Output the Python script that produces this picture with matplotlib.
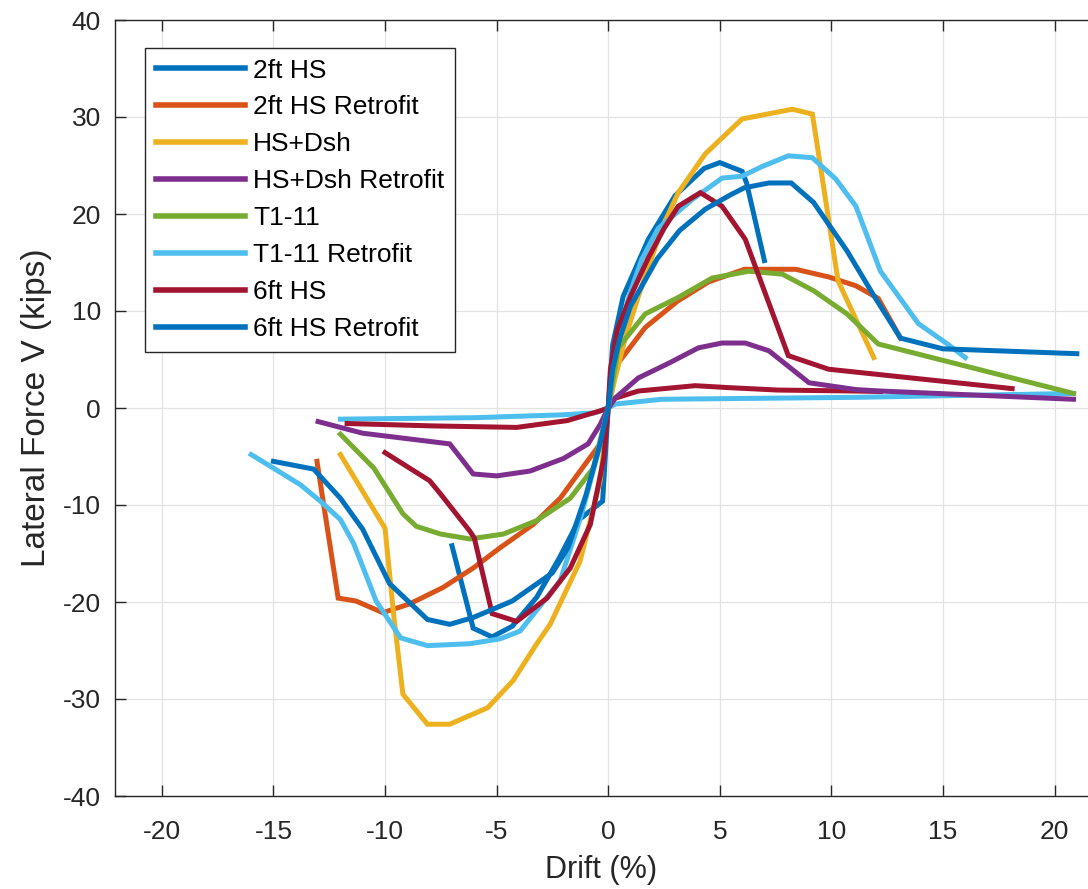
import numpy as np
import matplotlib
matplotlib.use("Agg")
import matplotlib.pyplot as plt

plt.rcParams['font.family'] = ['Liberation Sans', 'DejaVu Sans']
plt.rcParams['axes.unicode_minus'] = False

# MATLAB default colours
c_blue = '#0072BD'
c_orange = '#D95319'
c_yellow = '#EDB120'
c_purple = '#7E2F8E'
c_green = '#77AC30'
c_cyan = '#4DBEEE'
c_red = '#A2142F'

### Data (drift %, lateral force kips)
hs2_x = [-7.0, -6.05, -5.2, -4.3, -3.2, -2.2, -1.3, -0.25, 0.0, 0.2, 0.67, 1.8, 3.0, 4.3, 5.0, 6.0, 6.2, 7.0]
hs2_y = [-14.2, -22.7, -23.6, -22.5, -19.5, -15.5, -11.5, -9.6, 0.0, 6.5, 11.5, 17.4, 21.9, 24.7, 25.3, 24.4, 23.2, 15.2]

hs2r_x = [-13.05, -12.1, -11.3, -10.1, -8.9, -7.4, -6.05, -4.84, -3.36, -2.15, -1.26, -0.36, 0.0, 0.4, 1.66, 3.1, 4.5, 6.1, 8.4, 9.9, 11.1, 12.1, 13.1]
hs2r_y = [-5.5, -19.6, -19.9, -21.1, -20.2, -18.5, -16.5, -14.4, -12.0, -9.3, -6.5, -3.7, 0.0, 4.5, 8.3, 11.0, 13.0, 14.3, 14.3, 13.5, 12.6, 11.3, 7.2]

hsd_x = [-12.0, -11.0, -10.0, -9.6, -9.2, -8.1, -7.1, -5.4, -4.26, -3.2, -2.6, -1.26, -0.36, 0.0, 0.3, 0.8, 1.35, 2.4, 3.14, 4.35, 6.0, 7.35, 8.25, 9.15, 10.3, 11.9]
hsd_y = [-4.8, -8.6, -12.4, -21.6, -29.5, -32.6, -32.6, -30.9, -28.1, -24.3, -22.3, -15.8, -7.5, 0.0, 3.0, 7.5, 11.5, 18.5, 22.2, 26.2, 29.8, 30.4, 30.8, 30.3, 13.1, 5.2]

hsdr_x = [-13.0, -11.0, -7.1, -6.05, -5.0, -3.5, -2.0, -0.9, -0.36, 0.0, 0.3, 1.35, 2.7, 4.04, 5.1, 6.14, 7.2, 9.0, 11.1, 12.2, 20.85]
hsdr_y = [-1.4, -2.6, -3.7, -6.8, -7.0, -6.5, -5.2, -3.7, -1.7, 0.0, 1.0, 3.1, 4.6, 6.2, 6.7, 6.7, 5.9, 2.6, 1.9, 1.75, 0.9]

t11_x = [-12.0, -10.5, -9.2, -8.6, -7.5, -6.2, -4.7, -3.2, -1.7, -0.67, 0.0, 0.45, 1.66, 3.14, 4.66, 6.3, 7.8, 9.2, 10.7, 12.1, 20.85]
t11_y = [-2.7, -6.2, -10.9, -12.2, -13.0, -13.5, -13.0, -11.6, -9.3, -6.2, 0.0, 6.2, 9.7, 11.4, 13.4, 14.1, 13.8, 12.1, 9.7, 6.6, 1.5]

t11r_x = [-16.0, -15.0, -13.8, -12.9, -12.0, -11.4, -10.4, -9.3, -8.1, -6.2, -4.85, -3.95, -2.15, -1.2, -0.5, 0.0, 0.2, 0.5, 1.0, 1.5, 2.24, 3.77, 5.1, 6.0, 6.9, 8.07, 9.15, 10.2, 11.1, 12.2, 13.9, 15.2, 16.0]
t11r_y = [-4.8, -6.2, -7.9, -9.6, -11.5, -14.0, -19.9, -23.7, -24.5, -24.3, -23.8, -23.0, -17.8, -11.0, -5.0, 0.0, 4.0, 8.0, 12.0, 15.3, 18.5, 21.5, 23.7, 23.9, 24.9, 26.0, 25.8, 23.6, 20.8, 14.1, 8.7, 6.6, 5.2]

hs6_x = [-10.0, -8.9, -8.0, -7.5, -6.2, -6.0, -5.2, -4.1, -2.74, -1.7, -0.8, -0.2, 0.0, 0.1, 0.4, 1.0, 1.8, 2.5, 3.14, 4.13, 5.1, 6.14, 8.07, 9.87, 11.1, 18.1]
hs6_y = [-4.6, -6.2, -7.5, -8.9, -12.7, -13.4, -21.2, -22.0, -19.6, -16.5, -12.0, -5.2, 0.0, 4.0, 8.0, 11.5, 15.5, 18.5, 20.8, 22.2, 20.8, 17.4, 5.4, 4.0, 3.7, 2.0]

hs6r_x = [-15.0, -13.2, -12.0, -11.0, -9.8, -8.1, -7.1, -6.05, -4.3, -2.5, -1.8, -1.0, -0.4, 0.0, 0.2, 0.5, 1.0, 2.2, 3.2, 4.35, 5.5, 6.1, 7.2, 8.2, 9.2, 10.7, 11.9, 13.1, 15.0, 21.0]
hs6r_y = [-5.5, -6.3, -9.3, -12.5, -18.1, -21.8, -22.3, -21.6, -19.9, -17.0, -14.4, -9.0, -4.0, 0.0, 4.0, 7.0, 10.5, 15.4, 18.3, 20.5, 22.0, 22.7, 23.2, 23.2, 21.2, 16.2, 11.6, 7.2, 6.1, 5.6]

# extra low branches (no legend entry)
hs6_low_x = [-11.7, -7.8, -4.1, -1.84, -0.36, 0.0, 0.3, 1.35, 3.9, 5.4, 7.6, 11.1, 12.2]
hs6_low_y = [-1.6, -1.85, -2.0, -1.3, -0.3, 0.0, 1.0, 1.75, 2.3, 2.1, 1.85, 1.75, 1.7]

t11r_low_x = [-12.0, -6.0, -2.0, -0.6, 0.0, 0.3, 2.4, 11.1, 20.85]
t11r_low_y = [-1.15, -1.0, -0.7, -0.5, 0.0, 0.4, 0.9, 1.1, 1.5]

series = [(hs2_x, hs2_y, c_blue, '2ft HS'),
          (hs2r_x, hs2r_y, c_orange, '2ft HS Retrofit'),
          (hsd_x, hsd_y, c_yellow, 'HS+Dsh'),
          (hsdr_x, hsdr_y, c_purple, 'HS+Dsh Retrofit'),
          (t11_x, t11_y, c_green, 'T1-11'),
          (t11r_x, t11r_y, c_cyan, 'T1-11 Retrofit'),
          (hs6_x, hs6_y, c_red, '6ft HS'),
          (hs6r_x, hs6r_y, c_blue, '6ft HS Retrofit')]

### Plot
fig = plt.figure(figsize=(10.88, 8.89), dpi=100)
ax = fig.add_axes([115/1088, 93/889, 973/1088, 776/889])

lw = 3.6
ax.plot(t11r_low_x, t11r_low_y, color=c_cyan, lw=lw, label='_nolegend_')
ax.plot(hs6_low_x, hs6_low_y, color=c_red, lw=lw, label='_nolegend_')
handles = []
for x, y, c, lab in series:
    h, = ax.plot(x, y, color=c, lw=lw, label=lab, solid_joinstyle='miter')
    handles.append(h)

ax.set_xlim(-22.1, 21.5)
ax.set_ylim(-40, 40)
ax.set_xticks(np.arange(-20, 21, 5))
ax.set_yticks(np.arange(-40, 41, 10))

ax.grid(True, color='#e3e3e3', lw=0.9)
ax.set_axisbelow(True)
for s in ['left', 'bottom', 'top']:
    ax.spines[s].set_color('#262626')
    ax.spines[s].set_linewidth(1.0)
ax.spines['right'].set_visible(False)

ax.tick_params(axis='both', direction='in', length=8, width=1, color='#262626',
               labelsize=19, labelcolor='#262626', top=True, right=False)
ax.tick_params(axis='x', pad=17)
ax.tick_params(axis='y', pad=10)

ax.set_xlabel("Drift (%)", fontsize=22, color='#262626', labelpad=8)
ax.set_ylabel("Lateral Force V (kips)", fontsize=24, color='#262626', labelpad=8)

leg = ax.legend(handles=handles, loc='upper left',
                bbox_to_anchor=(145/1088, 1 - 48/889), bbox_transform=fig.transFigure,
                fontsize=19, frameon=True, fancybox=False, framealpha=1,
                edgecolor='#262626', handlelength=3.4, handletextpad=0.3,
                labelspacing=0.49, borderpad=0.4, borderaxespad=0)
leg.get_frame().set_linewidth(1.0)
for l in leg.get_lines():
    l.set_linewidth(4)

fig.savefig('out.png', dpi=100)
